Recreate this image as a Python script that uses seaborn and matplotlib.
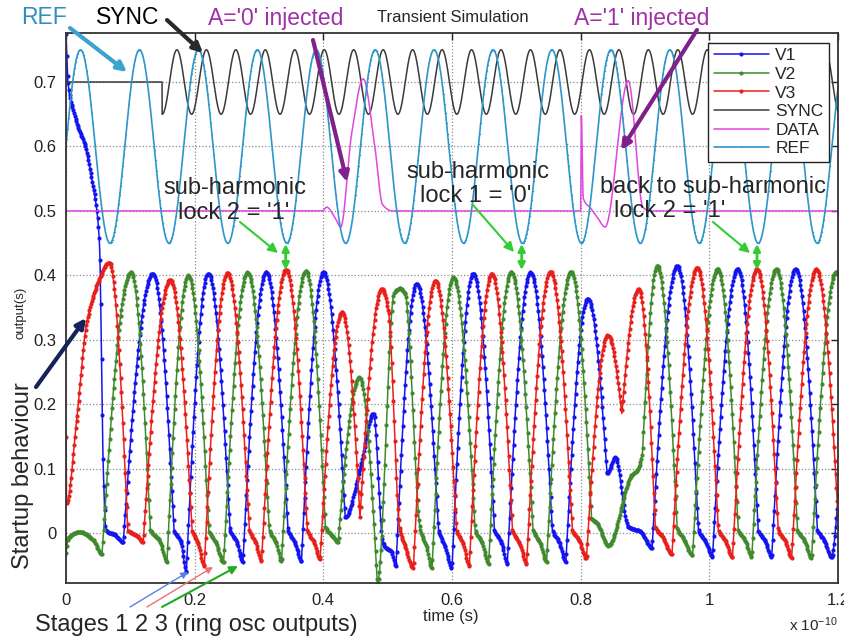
import numpy as np
import pandas as pd
import matplotlib
matplotlib.use("Agg")
import matplotlib.pyplot as plt
import seaborn as sns

# ------------------------------------------------------------
# DATA  (time in units of 1e-10 s, values in V) - knots
# ------------------------------------------------------------
v1_t = [0.000, 0.003, 0.009, 0.019, 0.030, 0.040, 0.048, 0.052, 0.058, 0.062, 0.076, 0.089,
        0.135, 0.168, 0.179, 0.187, 0.221, 0.255, 0.266, 0.275, 0.311, 0.345, 0.356, 0.366,
        0.400, 0.434, 0.457, 0.478, 0.493, 0.501, 0.505, 0.513, 0.545, 0.579, 0.589, 0.600,
        0.633, 0.666, 0.677, 0.686, 0.722, 0.756, 0.767, 0.777, 0.811, 0.841, 0.854, 0.874,
        0.893, 0.911, 0.950, 0.983, 0.994, 1.005, 1.044, 1.076, 1.087, 1.097, 1.134, 1.168,
        1.179, 1.190, 1.201]
v1_v = [0.775, 0.700, 0.665, 0.630, 0.600, 0.550, 0.500, 0.450, 0.100, 0.005, -0.002, -0.014,
        0.403, 0.005, -0.015, -0.060, 0.403, 0.005, -0.015, -0.045, 0.405, 0.005, -0.015, -0.043,
        0.405, 0.025, 0.100, 0.186, -0.016, -0.025, -0.027, -0.050, 0.387, 0.005, -0.020, -0.054,
        0.403, 0.005, -0.015, -0.047, 0.405, 0.005, -0.015, -0.044, 0.364, 0.093, 0.118, 0.010,
        0.003, -0.023, 0.415, 0.005, -0.012, -0.036, 0.410, 0.005, -0.012, -0.037, 0.410, 0.005,
        -0.012, -0.037, 0.060]

v2_t = [0.000, 0.003, 0.022, 0.042, 0.056, 0.101, 0.131, 0.146, 0.157, 0.190, 0.222, 0.233,
        0.245, 0.282, 0.316, 0.327, 0.335, 0.373, 0.403, 0.415, 0.423, 0.456, 0.484, 0.510,
        0.519, 0.527, 0.551, 0.560, 0.569, 0.602, 0.636, 0.647, 0.657, 0.692, 0.726, 0.737,
        0.747, 0.785, 0.817, 0.826, 0.843, 0.879, 0.888, 0.896, 0.919, 0.950, 0.961, 0.974,
        1.013, 1.045, 1.056, 1.066, 1.104, 1.137, 1.148, 1.159, 1.197, 1.201]
v2_v = [-0.030, -0.008, 0.002, -0.010, -0.032, 0.405, 0.005, -0.012, -0.044, 0.400, 0.005, -0.015,
        -0.045, 0.405, 0.005, -0.015, -0.044, 0.407, 0.010, -0.005, -0.014, 0.242, -0.078, 0.372,
        0.380, 0.372, 0.005, -0.020, -0.054, 0.397, 0.005, -0.015, -0.047, 0.405, 0.005, -0.015,
        -0.044, 0.406, 0.023, 0.015, -0.019, 0.090, 0.098, 0.125, 0.415, 0.008, -0.010, -0.034,
        0.410, 0.005, -0.012, -0.037, 0.410, 0.005, -0.012, -0.038, 0.405, 0.404]

v3_t = [0.000, 0.001, 0.017, 0.032, 0.053, 0.067, 0.096, 0.112, 0.120, 0.162, 0.196, 0.205,
        0.215, 0.251, 0.285, 0.295, 0.304, 0.342, 0.375, 0.386, 0.395, 0.429, 0.457, 0.491,
        0.501, 0.519, 0.527, 0.540, 0.574, 0.607, 0.617, 0.627, 0.662, 0.694, 0.706, 0.716,
        0.753, 0.787, 0.798, 0.809, 0.842, 0.864, 0.890, 0.916, 0.927, 0.942, 0.981, 1.014,
        1.025, 1.036, 1.074, 1.107, 1.118, 1.128, 1.166, 1.201]
v3_v = [0.150, 0.047, 0.180, 0.325, 0.397, 0.420, 0.005, -0.005, -0.014, 0.393, 0.005, -0.015,
        -0.050, 0.404, 0.005, -0.015, -0.043, 0.409, 0.005, -0.015, -0.040, 0.343, 0.025, 0.379,
        0.346, 0.005, -0.020, -0.054, 0.392, 0.005, -0.015, -0.050, 0.403, 0.005, -0.018, -0.047,
        0.406, 0.005, -0.012, -0.039, 0.307, 0.186, 0.379, 0.010, -0.005, -0.032, 0.412, 0.005,
        -0.012, -0.037, 0.410, 0.005, -0.012, -0.038, 0.410, 0.010]

sync_t = [0.000, 0.1493, 0.1495, 0.1724, 0.1953, 0.2182, 0.2411, 0.2640, 0.2869, 0.3098, 0.3327,
          0.3556, 0.3785, 0.4014, 0.4243, 0.4472, 0.4701, 0.4930, 0.5159, 0.5388, 0.5617,
          0.5846, 0.6075, 0.6304, 0.6533, 0.6762, 0.6991, 0.7220, 0.7449, 0.7678, 0.7907,
          0.8136, 0.8365, 0.8594, 0.8823, 0.9052, 0.9281, 0.9510, 0.9739, 0.9968, 1.0197,
          1.0426, 1.0655, 1.0884, 1.1113, 1.1342, 1.1571, 1.1800, 1.2029]
sync_v = [0.70, 0.70] + [0.65, 0.75] * 23 + [0.65]

ref_t = [-0.0232, 0.0226, 0.0684, 0.1142, 0.1600, 0.2058, 0.2516, 0.2974, 0.3432, 0.3890,
         0.4348, 0.4806, 0.5264, 0.5722, 0.6180, 0.6638, 0.7096, 0.7554, 0.8012, 0.8470,
         0.8928, 0.9386, 0.9844, 1.0302, 1.0760, 1.1218, 1.1676, 1.2134]
ref_v = [0.45, 0.75] * 14

data_t = [0.000, 0.399, 0.405, 0.418, 0.427, 0.444, 0.462, 0.480, 0.492, 0.507,
          0.800, 0.801, 0.804, 0.815, 0.826, 0.838, 0.874, 0.897, 0.908, 1.201]
data_v = [0.500, 0.500, 0.506, 0.490, 0.475, 0.620, 0.705, 0.600, 0.510, 0.500,
          0.500, 0.648, 0.520, 0.505, 0.490, 0.475, 0.702, 0.505, 0.500, 0.500]

series = ["V1", "V2", "V3", "SYNC", "DATA", "REF"]
knots = {"V1": (v1_t, v1_v), "V2": (v2_t, v2_v), "V3": (v3_t, v3_v),
         "SYNC": (sync_t, sync_v), "DATA": (data_t, data_v), "REF": (ref_t, ref_v)}
shape = {"V1": "arch", "V2": "arch", "V3": "arch", "SYNC": "cos", "DATA": "pchip", "REF": "cos"}
colors = {"V1": "#1414f0", "V2": "#3f8a2c", "V3": "#e8201c",
          "SYNC": "#3a3a3a", "DATA": "#e045e0", "REF": "#2d97c9"}


def trace(xk, yk, x, mode):
    # smooth curve through the read-off knots (monotone cubic, or wave-shaped segments)
    xk = np.asarray(xk, float)
    yk = np.asarray(yk, float)
    h = np.diff(xk)
    d = np.diff(yk) / h
    m = np.zeros_like(yk)
    m[0], m[-1] = d[0], d[-1]
    for k in range(1, len(xk) - 1):
        if d[k - 1] * d[k] > 0:
            w1 = 2 * h[k] + h[k - 1]
            w2 = h[k] + 2 * h[k - 1]
            m[k] = (w1 + w2) / (w1 / d[k - 1] + w2 / d[k])
    i = np.clip(np.searchsorted(xk, x, side="right") - 1, 0, len(h) - 1)
    s = np.clip((x - xk[i]) / h[i], 0, 1)
    y0, y1 = yk[i], yk[i + 1]
    out = ((2 * s**3 - 3 * s**2 + 1) * y0 + (s**3 - 2 * s**2 + s) * h[i] * m[i]
           + (-2 * s**3 + 3 * s**2) * y1 + (s**3 - s**2) * h[i] * m[i + 1])
    if mode == "cos":
        out = y0 + (y1 - y0) * (1 - np.cos(np.pi * s)) / 2
    elif mode == "arch":
        peak = np.zeros(len(yk), bool)
        peak[1:-1] = (yk[1:-1] > yk[:-2]) & (yk[1:-1] > yk[2:]) & (yk[1:-1] > 0.2)
        rise = peak[i + 1]
        fall = peak[i]
        out = np.where(rise, y0 + (y1 - y0) * np.sin(np.pi / 2 * s), out)
        out = np.where(fall, y0 + (y1 - y0) * (1 - np.cos(np.pi / 2 * s)), out)
    return out


t_grid = np.round(np.arange(-0.03, 1.2201, 0.0004), 5)
frames = []
for name in series:
    tk, vk = knots[name]
    lo, hi = max(tk[0], -0.03), min(tk[-1], 1.22)
    tt = t_grid[(t_grid >= lo) & (t_grid <= hi)]
    tt = np.union1d(tt, [x for x in tk if lo <= x <= hi])
    frames.append(pd.DataFrame({"time": tt, "value": trace(tk, vk, tt, shape[name]),
                                "signal": name}))
df = pd.concat(frames, ignore_index=True)

# ------------------------------------------------------------
# PLOT
# ------------------------------------------------------------
sns.set_theme(style="white")
plt.rcParams["font.family"] = ["Liberation Sans", "DejaVu Sans"]
plt.rcParams["mathtext.default"] = "regular"

W, H = 845, 638
fig = plt.figure(figsize=(W / 100, H / 100), dpi=100)
ax = fig.add_axes([66 / W, 1 - 583 / H, (838 - 66) / W, (583 - 33) / H])


def P(x, y):
    return (x / W, 1 - y / H)


for name in series:
    sub = df[df["signal"] == name]
    kw = dict(x=sub["time"], y=sub["value"], ax=ax, color=colors[name], label=name,
              estimator=None, sort=False)
    if name.startswith("V"):
        sns.lineplot(**kw, lw=1.1, marker=".", markersize=6, markeredgewidth=0, markevery=3)
    elif name == "REF":
        sns.lineplot(**kw, lw=1.2, marker=".", markersize=2, markeredgewidth=0, markevery=4)
    else:
        sns.lineplot(**kw, lw=1.1)

ax.set_xlim(0, 1.2)
ax.set_ylim(-0.077, 0.776)
ax.set_xticks([0, 0.2, 0.4, 0.6, 0.8, 1.0, 1.2])
ax.set_yticks([0, 0.1, 0.2, 0.3, 0.4, 0.5, 0.6, 0.7])
ax.xaxis.set_major_formatter(matplotlib.ticker.FuncFormatter(lambda v, p: f"{v:g}"))
ax.yaxis.set_major_formatter(matplotlib.ticker.FuncFormatter(lambda v, p: f"{v:g}"))
ax.tick_params(direction="in", top=True, right=True, length=5, width=1, labelsize=12,
               colors="#222222", pad=7)
ax.grid(True, linestyle=":", color="#8a8a8a", lw=0.9)
for sp in ax.spines.values():
    sp.set_color("#333333")
    sp.set_linewidth(1.3)
ax.set_xlabel("")
ax.set_ylabel("")

leg = ax.legend(loc="upper right", bbox_to_anchor=(0.988, 0.982), borderaxespad=0,
                fontsize=12.5, frameon=True, fancybox=False, edgecolor="#222222",
                framealpha=1, handlelength=3.2, labelspacing=0.2, borderpad=0.3,
                handletextpad=0.35)
leg.get_frame().set_linewidth(1.0)

# axis texts
fig.text(*P(453, 17), "Transient Simulation", ha="center", va="center", fontsize=12)
fig.text(*P(21, 313), "output(s)", ha="center", va="center", rotation=90, fontsize=9.5)
fig.text(*P(451, 617), "time (s)", ha="center", va="center", fontsize=12)
fig.text(*P(838, 625), r"x 10$^{-10}$", ha="right", va="center", fontsize=11)

# annotations
big = 16.5
fig.text(*P(44, 18), "REF", ha="center", va="center", fontsize=big, color="#2e8fc0")
fig.text(*P(128, 18), "SYNC", ha="center", va="center", fontsize=big, color="black")
fig.text(*P(276, 18), "A='0' injected", ha="center", va="center", fontsize=big, color="#a030a8")
fig.text(*P(642, 18), "A='1' injected", ha="center", va="center", fontsize=big, color="#a030a8")
fig.text(*P(235, 188), "sub-harmonic", ha="center", va="center", fontsize=17)
fig.text(*P(234, 213), "lock 2 = '1'", ha="center", va="center", fontsize=17)
fig.text(*P(478, 172), "sub-harmonic", ha="center", va="center", fontsize=17)
fig.text(*P(476, 196), "lock 1 = '0'", ha="center", va="center", fontsize=17)
fig.text(*P(713, 187), "back to sub-harmonic", ha="center", va="center", fontsize=17)
fig.text(*P(670, 211), "lock 2 = '1'", ha="center", va="center", fontsize=17)
fig.text(*P(23, 476), "Startup behaviour", ha="center", va="center", rotation=90, fontsize=17)
fig.text(*P(35, 625), "Stages 1 2 3 (ring osc outputs)", ha="left", va="center", fontsize=17)


def arrow(start, end, color, lw, style="-|>", ms=14):
    ax.annotate("", xy=P(*end), xytext=P(*start), xycoords="figure fraction",
                textcoords="figure fraction", annotation_clip=False,
                arrowprops=dict(arrowstyle=style, color=color, lw=lw, mutation_scale=ms,
                                shrinkA=0, shrinkB=0))


arrow((70, 28), (127, 72), "#3aa4cc", 3)
arrow((167, 20), (203, 53), "#2a2a2a", 3)
arrow((313, 40), (347, 182), "#80208a", 3)
arrow((697, 30), (621, 150), "#80208a", 3)
arrow((240, 222), (278, 253), "#33cc33", 1.5)
arrow((473, 205), (514, 252), "#33cc33", 1.5)
arrow((713, 222), (750, 253), "#33cc33", 1.5)
for x in (285.7, 521.7, 757):
    arrow((x, 244), (x, 270), "#33cc33", 2, style="<|-|>", ms=10)
arrow((36, 387), (86, 318), "#14245a", 3)
arrow((130, 607), (188, 572), "#5b7fe0", 1.0, ms=10)
arrow((147, 607), (213, 567), "#f07070", 1.0, ms=10)
arrow((162, 607), (238, 566), "#22aa22", 1.5, ms=12)

fig.savefig("out.png", dpi=100)
